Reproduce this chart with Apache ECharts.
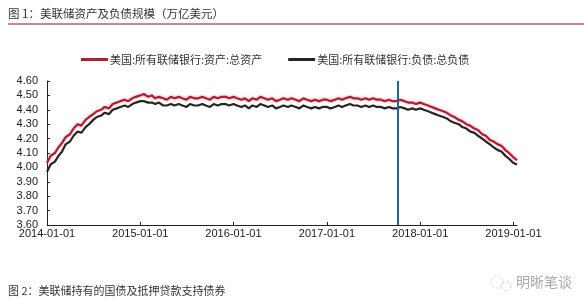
<!DOCTYPE html>
<html><head><meta charset="utf-8">
<script src="https://cdn.jsdelivr.net/npm/echarts@6/dist/echarts.min.js"></script>
<style>html,body{margin:0;padding:0;background:#fff}#c{width:584px;height:305px}</style>
</head><body><div id="c"></div>
<script>
// dates (semi-monthly observations)
var dates = [
'2014-01-01','2014-01-15','2014-02-01','2014-02-15','2014-03-01','2014-03-15','2014-04-01','2014-04-15','2014-05-01','2014-05-15','2014-06-01','2014-06-15',
'2014-07-01','2014-07-15','2014-08-01','2014-08-15','2014-09-01','2014-09-15','2014-10-01','2014-10-15','2014-11-01','2014-11-15','2014-12-01','2014-12-15',
'2015-01-01','2015-01-15','2015-02-01','2015-02-15','2015-03-01','2015-03-15','2015-04-01','2015-04-15','2015-05-01','2015-05-15','2015-06-01','2015-06-15',
'2015-07-01','2015-07-15','2015-08-01','2015-08-15','2015-09-01','2015-09-15','2015-10-01','2015-10-15','2015-11-01','2015-11-15','2015-12-01','2015-12-15',
'2016-01-01','2016-01-15','2016-02-01','2016-02-15','2016-03-01','2016-03-15','2016-04-01','2016-04-15','2016-05-01','2016-05-15','2016-06-01','2016-06-15',
'2016-07-01','2016-07-15','2016-08-01','2016-08-15','2016-09-01','2016-09-15','2016-10-01','2016-10-15','2016-11-01','2016-11-15','2016-12-01','2016-12-15',
'2017-01-01','2017-01-15','2017-02-01','2017-02-15','2017-03-01','2017-03-15','2017-04-01','2017-04-15','2017-05-01','2017-05-15','2017-06-01','2017-06-15',
'2017-07-01','2017-07-15','2017-08-01','2017-08-15','2017-09-01','2017-09-15','2017-10-01','2017-10-15','2017-11-01','2017-11-15','2017-12-01','2017-12-15',
'2018-01-01','2018-01-15','2018-02-01','2018-02-15','2018-03-01','2018-03-15','2018-04-01','2018-04-15','2018-05-01','2018-05-15','2018-06-01','2018-06-15',
'2018-07-01','2018-07-15','2018-08-01','2018-08-15','2018-09-01','2018-09-15','2018-10-01','2018-10-15','2018-11-01','2018-11-15','2018-12-01','2018-12-15',
'2019-01-01','2019-01-15'
];
// 美国:所有联储银行:资产:总资产 (万亿美元)
var assets = [
4.03,4.08,4.10,4.14,4.17,4.21,4.23,4.27,4.30,4.29,4.33,4.35,
4.37,4.39,4.40,4.42,4.41,4.44,4.45,4.46,4.47,4.46,4.48,4.49,
4.50,4.51,4.49,4.50,4.48,4.49,4.48,4.47,4.49,4.48,4.49,4.48,
4.47,4.49,4.48,4.48,4.49,4.48,4.47,4.49,4.48,4.49,4.49,4.48,
4.49,4.48,4.47,4.48,4.46,4.48,4.47,4.49,4.48,4.47,4.48,4.46,
4.47,4.48,4.47,4.48,4.47,4.46,4.48,4.47,4.46,4.47,4.46,4.47,
4.47,4.46,4.47,4.48,4.47,4.48,4.49,4.48,4.48,4.47,4.48,4.47,
4.48,4.47,4.47,4.46,4.47,4.46,4.46,4.47,4.46,4.45,4.45,4.44,
4.45,4.44,4.43,4.42,4.41,4.40,4.39,4.38,4.36,4.35,4.33,4.32,
4.30,4.29,4.27,4.26,4.23,4.22,4.19,4.18,4.16,4.15,4.12,4.10,
4.07,4.05
];
// 美国:所有联储银行:负债:总负债 (万亿美元)
var liabilities = [
3.97,4.02,4.04,4.08,4.11,4.16,4.18,4.22,4.25,4.24,4.28,4.30,
4.33,4.35,4.36,4.38,4.37,4.40,4.41,4.42,4.43,4.42,4.44,4.45,
4.46,4.46,4.45,4.45,4.44,4.45,4.43,4.43,4.44,4.43,4.44,4.43,
4.42,4.44,4.43,4.43,4.44,4.43,4.42,4.44,4.43,4.44,4.44,4.43,
4.44,4.43,4.42,4.43,4.41,4.43,4.42,4.44,4.43,4.42,4.43,4.41,
4.42,4.43,4.42,4.43,4.42,4.41,4.43,4.42,4.41,4.42,4.41,4.42,
4.42,4.41,4.42,4.43,4.42,4.43,4.44,4.43,4.43,4.42,4.43,4.42,
4.43,4.42,4.42,4.41,4.42,4.41,4.41,4.42,4.41,4.40,4.41,4.40,
4.41,4.40,4.39,4.38,4.37,4.36,4.35,4.34,4.32,4.31,4.30,4.28,
4.27,4.25,4.24,4.22,4.20,4.18,4.16,4.14,4.12,4.11,4.08,4.06,
4.03,4.02
];
var seriesNames = ['美国:所有联储银行:资产:总资产','美国:所有联储银行:负债:总负债'];
var yTicks = [3.6, 4.6, 0.1];
var markDate = '2017-10-04';
var titleText = '图 1：美联储资产及负债规模（万亿美元）';
var footText = '图 2：美联储持有的国债及抵押贷款支持债券';
var watermark = '明晰笔谈';

function pairs(v){ return dates.map(function(d,i){ return [d, v[i]]; }); }
var font = '"Liberation Sans", Arial, "Noto Sans CJK SC", sans-serif';
var chart = echarts.init(document.getElementById('c'));
chart.setOption({
  animation:false,
  textStyle:{fontFamily:font},
  grid:{left:47,right:67,top:81,bottom:80,containLabel:false},
  legend:{
    left:76, top:49, itemWidth:27, itemHeight:3, itemGap:26,
    icon:'rect',
    textStyle:{fontSize:11,color:'#333',fontFamily:'"Noto Sans CJK SC", sans-serif',padding:[0,0,0,-3]},
    data:seriesNames
  },
  xAxis:{
    type:'time', min:'2014-01-01', max:'2019-01-15',
    minInterval:365*24*3600*1000, maxInterval:366*24*3600*1000,
    axisLine:{lineStyle:{color:'#222',width:1}},
    axisTick:{show:true,inside:true,length:3,lineStyle:{color:'#222'}},
    axisLabel:{fontSize:11,color:'#222',margin:3,formatter:function(v){return echarts.time.format(v,'{yyyy}-{MM}-{dd}',false);},
      showMinLabel:true},
    splitLine:{show:false}
  },
  yAxis:{
    type:'value', min:yTicks[0], max:yTicks[1], interval:yTicks[2],
    axisLine:{show:true,lineStyle:{color:'#222',width:1}},
    axisTick:{show:true,inside:true,length:3,lineStyle:{color:'#222'}},
    axisLabel:{fontSize:11,color:'#222',margin:9,formatter:function(v){return v.toFixed(2);}},
    splitLine:{show:false}
  },
  graphic:[
    {type:'text',left:8,top:8,style:{text:titleText,fontSize:11.5,fill:'#333',fontFamily:'"Noto Sans CJK SC", sans-serif'}},
    {type:'line',shape:{x1:8,y1:24,x2:584,y2:24},style:{stroke:'#8B1A1A',lineWidth:1.2}},
    {type:'text',left:8,top:285,style:{text:footText,fontSize:11,fill:'#333',fontFamily:'"Noto Sans CJK SC", sans-serif'}},
    {type:'text',left:516,top:275,style:{text:watermark,fontSize:14,fill:'#aaa',fontFamily:'"Noto Sans CJK SC", sans-serif'}},
    {type:'circle',shape:{cx:497,cy:282,r:6},style:{fill:'none',stroke:'#ccc',lineWidth:1,lineDash:[2,2]}},
    {type:'circle',shape:{cx:506,cy:286,r:5},style:{fill:'none',stroke:'#ccc',lineWidth:1,lineDash:[2,2]}}
  ],
  series:[
    {name:seriesNames[0],type:'line',data:pairs(assets),showSymbol:false,
     lineStyle:{color:'#B01E34',width:2.2,shadowColor:'rgba(230,120,140,0.7)',shadowBlur:3},
     itemStyle:{color:'#B01E34'},
     markLine:{silent:true,symbol:'none',label:{show:false},
       lineStyle:{color:'#1E6A8A',width:2,type:'solid'},
       data:[{xAxis:markDate}]}
    },
    {name:seriesNames[1],type:'line',data:pairs(liabilities),showSymbol:false,
     lineStyle:{color:'#252525',width:2.2},itemStyle:{color:'#252525'}}
  ]
});
</script></body></html>
